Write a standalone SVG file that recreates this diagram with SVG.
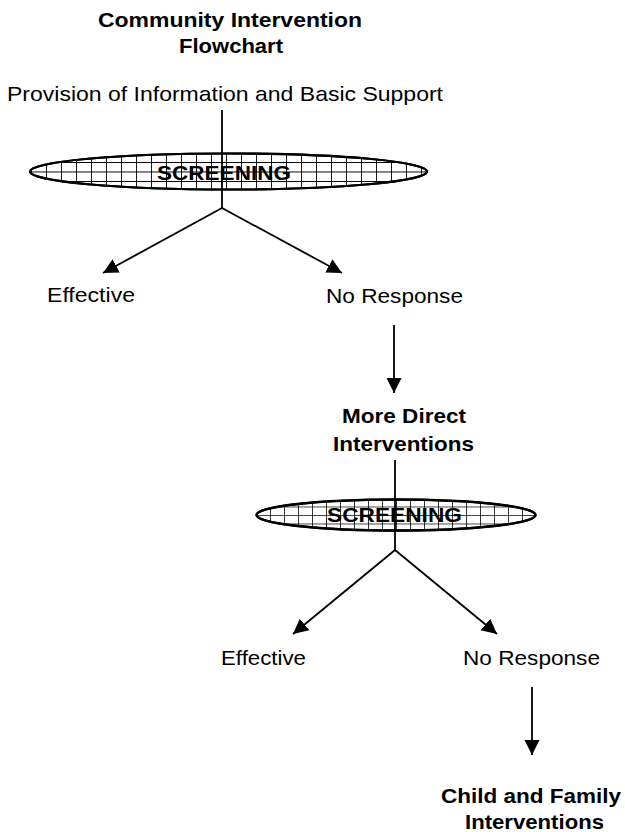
<svg xmlns="http://www.w3.org/2000/svg" width="625" height="832" viewBox="0 0 625 832">
<style>
text{font-family:"Liberation Sans",Arial,sans-serif;fill:#000;font-size:21px}
.b{font-weight:bold}
.conn line{stroke:#000;stroke-width:1.8;fill:none}
.ell{fill:#fff;stroke:#000;stroke-width:2.2}
</style>
<defs>
<marker id="ah" markerUnits="userSpaceOnUse" markerWidth="18" markerHeight="18" viewBox="0 0 18 18" refX="15" refY="9" orient="auto">
<path d="M0,1.5 L15,9 L0,16.5 Z" fill="#000"/>
</marker>
<clipPath id="c1"><ellipse cx="228.5" cy="171.5" rx="198.5" ry="18"/></clipPath>
<clipPath id="c2"><ellipse cx="396" cy="515" rx="139.5" ry="15.5"/></clipPath>
<pattern id="g1" patternUnits="userSpaceOnUse" x="46" y="162" width="15" height="9.5">
<path d="M0,0 V9.5 M0,0 H15" stroke="#000" stroke-width="1.8" fill="none"/>
</pattern>
<pattern id="g2" patternUnits="userSpaceOnUse" x="270" y="506.5" width="14" height="8.5">
<path d="M0,0 V8.5 M0,0 H14" stroke="#000" stroke-width="1.6" fill="none"/>
</pattern>
</defs>
<rect width="625" height="832" fill="#fff"/>

<g id="title">
<text class="b" x="98" y="27" textLength="264" lengthAdjust="spacingAndGlyphs">Community Intervention</text>
<text class="b" x="179" y="53" textLength="104" lengthAdjust="spacingAndGlyphs">Flowchart</text>
</g>

<g id="provision">
<text x="7" y="101" textLength="436" lengthAdjust="spacingAndGlyphs">Provision of Information and Basic Support</text>
</g>

<g id="screening1">
<ellipse class="ell" cx="228.5" cy="171.5" rx="198.5" ry="18"/>
<rect x="30" y="150" width="400" height="45" fill="url(#g1)" clip-path="url(#c1)"/>
<ellipse cx="228.5" cy="171.5" rx="198.5" ry="18" fill="none" stroke="#000" stroke-width="2.2"/>
<text class="b" x="157" y="180" textLength="134" lengthAdjust="spacingAndGlyphs">SCREENING</text>
</g>

<g id="effective1">
<text x="47" y="302" textLength="88" lengthAdjust="spacingAndGlyphs">Effective</text>
</g>
<g id="noresponse1">
<text x="326" y="303" textLength="137" lengthAdjust="spacingAndGlyphs">No Response</text>
</g>

<g id="moredirect">
<text class="b" x="342" y="423" textLength="124" lengthAdjust="spacingAndGlyphs">More Direct</text>
<text class="b" x="333" y="451" textLength="141" lengthAdjust="spacingAndGlyphs">Interventions</text>
</g>

<g id="screening2">
<ellipse class="ell" cx="396" cy="515" rx="139.5" ry="15.5"/>
<rect x="255" y="498" width="282" height="35" fill="url(#g2)" clip-path="url(#c2)"/>
<ellipse cx="396" cy="515" rx="139.5" ry="15.5" fill="none" stroke="#000" stroke-width="2.4"/>
<text class="b" x="327" y="522" textLength="135" lengthAdjust="spacingAndGlyphs">SCREENING</text>
</g>

<g id="effective2">
<text x="221" y="665" textLength="85" lengthAdjust="spacingAndGlyphs">Effective</text>
</g>
<g id="noresponse2">
<text x="463" y="665" textLength="137" lengthAdjust="spacingAndGlyphs">No Response</text>
</g>

<g id="childfamily">
<text class="b" x="441" y="803" textLength="180" lengthAdjust="spacingAndGlyphs">Child and Family</text>
<text class="b" x="465" y="829" textLength="139" lengthAdjust="spacingAndGlyphs">Interventions</text>
</g>

<g class="conn" id="connectors">
<line x1="222" y1="110" x2="222" y2="208"/>
<line x1="222" y1="208" x2="103" y2="273" marker-end="url(#ah)"/>
<line x1="222" y1="208" x2="342" y2="273" marker-end="url(#ah)"/>
<line x1="394" y1="325" x2="394" y2="393" marker-end="url(#ah)"/>
<line x1="395" y1="460" x2="395" y2="550"/>
<line x1="395" y1="550" x2="293" y2="634" marker-end="url(#ah)"/>
<line x1="395" y1="550" x2="497" y2="634" marker-end="url(#ah)"/>
<line x1="532" y1="687" x2="532" y2="755" marker-end="url(#ah)"/>
</g>
</svg>
